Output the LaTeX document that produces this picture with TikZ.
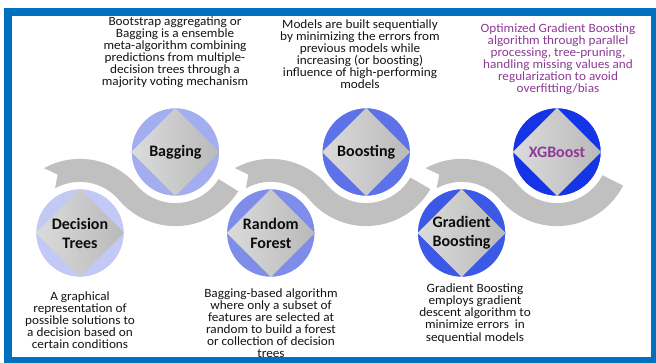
\documentclass[tikz,border=0pt]{standalone}
\usepackage{fontspec}
\setmainfont{Carlito}
\usetikzlibrary{calc}
\definecolor{frameblue}{HTML}{0070C0}
\definecolor{bandgray}{HTML}{C0C0C0}
\definecolor{xgpurple}{HTML}{8E3A96}
\definecolor{cA}{HTML}{C3C9F5}
\definecolor{cB}{HTML}{A3AEF0}
\definecolor{cC}{HTML}{7F8DEA}
\definecolor{cD}{HTML}{5D72E9}
\definecolor{cE}{HTML}{3C58E6}
\definecolor{cF}{HTML}{1434E6}
\newcommand{\bandseg}[5]{% low centre, high centre, start angle, notch angle, end angle
  \fill[bandgray] ($(#1)+(#3:74.1pt)$)
    arc[start angle=#3, end angle=40.3, radius=74.1pt]
    arc[start angle=220.3, end angle=#5, radius=51pt]
    -- ($(#2)+(#5:74.1pt)$)
    arc[start angle=#5, end angle=220.3, radius=74.1pt]
    arc[start angle=40.3, end angle=#3, radius=51.1pt]
    -- ($(#1)+(#4:62.6pt)$) -- cycle;}
\newcommand{\gem}[1]{%
  \shade[gemshade] ($(#1)+(0,44pt)$) -- ($(#1)+(44pt,0)$) -- ($(#1)+(0,-44pt)$) -- ($(#1)+(-44pt,0)$) -- cycle;}
\tikzset{
  disc/.style={circle, draw=white, line width=1.5pt, minimum size=89pt, inner sep=0pt},
  gemshade/.style={left color=gray!28, middle color=gray!4, right color=gray!55},
  lbl/.style={font=\fontsize{16}{19}\selectfont\bfseries, align=center, inner sep=0pt, text=black!95},
  desc/.style={font=\fontsize{12.6}{12.1}\selectfont\addfontfeature{FakeStretch=1.05}, align=center, inner sep=0pt, text=black!92}
}
\begin{document}
\begin{tikzpicture}[x=1pt, y=1pt]
\useasboundingbox (0,0) rectangle (656,363);
\fill[white] (0,0) rectangle (656,363);
\begin{scope}
\clip (0,0) rectangle (656,363);
\draw[frameblue, line width=8pt] (8,2) rectangle (655,351);
\end{scope}
% centres
\coordinate (p1) at (80,130);
\coordinate (p2) at (175.4,211);
\coordinate (p3) at (270.8,130);
\coordinate (p4) at (366.2,211);
\coordinate (p5) at (461.6,130);
\coordinate (p6) at (557,211);
% grey wave bands
\bandseg{p1}{p2}{119}{111}{328}
\bandseg{p3}{p4}{119}{111}{330}
\bandseg{p5}{p6}{119}{111}{333}
% discs
\node[disc, fill=cA] (dt) at (p1) {};
\node[disc, fill=cB] (bg) at (p2) {};
\node[disc, fill=cC] (rf) at (p3) {};
\node[disc, fill=cD] (bo) at (p4) {};
\node[disc, fill=cE] (gb) at (p5) {};
\node[disc, fill=cF] (xg) at (p6) {};
\gem{dt}\gem{bg}\gem{rf}\gem{bo}\gem{gb}\gem{xg}
% labels
\node[lbl] (dtl) at (p1) {Decision\\Trees};
\node[lbl] (bgl) at (p2) {Bagging};
\node[lbl] (rfl) at (p3) {Random\\Forest};
\node[lbl] (bol) at (p4) {Boosting};
\node[lbl] (gbl) at (p5) {Gradient\\Boosting};
\node[lbl, text=xgpurple] (xgl) at (p6) {XGBoost};
% descriptions
\node[desc] (bgd) at (175,311) {Bootstrap aggregating or\\Bagging is a ensemble\\meta-algorithm combining\\predictions from multiple-\\decision trees through a\\majority voting mechanism};
\node[desc] (bod) at (360,309) {Models are built sequentially\\by minimizing the errors from\\previous models while\\increasing (or boosting)\\influence of high-performing\\models};
\node[desc, text=xgpurple] (xgd) at (558,304) {Optimized Gradient Boosting\\algorithm through parallel\\processing, tree-pruning,\\handling missing values and\\regularization to avoid\\overfitting/bias};
\node[desc] (dtd) at (80,43) {A graphical\\representation of\\possible solutions to\\a decision based on\\certain conditions};
\node[desc] (rfd) at (271,40) {Bagging-based algorithm\\where only a subset of\\features are selected at\\random to build a forest\\or collection of decision\\trees};
\node[desc] (gbd) at (475,49.5) {Gradient Boosting\\employs gradient\\descent algorithm to\\minimize errors\ \ in\\sequential models};
\end{tikzpicture}
\end{document}
